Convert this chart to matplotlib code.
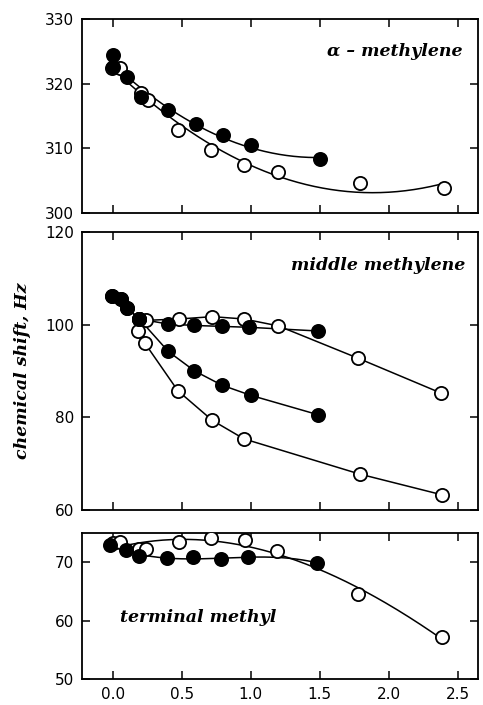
import matplotlib.pyplot as plt
import numpy as np

# alpha-methylene (top panel)
top_fill_x = [0.0, 0.0, 0.1, 0.2, 0.4, 0.6, 0.8, 1.0, 1.5]
top_fill_y = [324.4, 322.6, 321.1, 318.0, 315.9, 313.8, 312.0, 310.5, 308.3]
top_open_x = [-0.01, 0.05, 0.2, 0.25, 0.47, 0.71, 0.95, 1.2, 1.79, 2.4]
top_open_y = [322.4, 322.4, 318.6, 317.5, 312.8, 309.7, 307.4, 306.3, 304.6, 303.8]

# middle methylene (middle panel), four series joined by straight lines
mid_fill_a_x = [-0.01, 0.06, 0.1, 0.19, 0.4, 0.59, 0.79, 0.99, 1.49]
mid_fill_a_y = [106.2, 105.6, 103.6, 101.2, 100.1, 99.8, 99.6, 99.4, 98.6]
mid_fill_b_x = [-0.01, 0.06, 0.1, 0.19, 0.4, 0.59, 0.79, 1.0, 1.49]
mid_fill_b_y = [106.2, 105.6, 103.6, 101.2, 94.2, 90.0, 86.9, 84.7, 80.5]
mid_open_c_x = [0.19, 0.24, 0.48, 0.72, 0.95, 1.2, 1.78, 2.38]
mid_open_c_y = [101.2, 100.9, 101.2, 101.7, 101.2, 99.7, 92.7, 85.2]
mid_open_d_x = [0.19, 0.18, 0.23, 0.47, 0.72, 0.95, 1.79, 2.39]
mid_open_d_y = [101.2, 98.5, 96.0, 85.7, 79.3, 75.3, 67.7, 63.2]

# terminal methyl (bottom panel)
bot_fill_x = [-0.02, 0.09, 0.19, 0.39, 0.58, 0.78, 0.98, 1.48]
bot_fill_y = [72.9, 72.0, 71.1, 70.7, 70.8, 70.6, 70.8, 69.9]
bot_open_x = [0.0, 0.05, 0.19, 0.24, 0.48, 0.71, 0.96, 1.19, 1.78, 2.39]
bot_open_y = [73.2, 73.4, 72.3, 72.2, 73.4, 74.1, 73.8, 71.9, 64.5, 57.1]

xticks = [0.0, 0.5, 1.0, 1.5, 2.0, 2.5]

fig = plt.figure(figsize=(4.83, 7.05), dpi=100)
ax1 = fig.add_axes([0.170, 0.698, 0.820, 0.275])
ax2 = fig.add_axes([0.170, 0.277, 0.820, 0.394])
ax3 = fig.add_axes([0.170, 0.037, 0.820, 0.207])

lab_font = dict(family='DejaVu Serif', style='italic', weight='bold', size=12.5)
ms = 9.5


def style(ax, ylim, yticks):
    ax.set_xlim(-0.225, 2.65)
    ax.set_ylim(*ylim)
    ax.set_xticks(xticks)
    ax.set_yticks(yticks)
    ax.tick_params(direction='in', length=6, width=1.1, top=True, right=True,
                   labelright=False, labelsize=11, pad=6)
    for s in ax.spines.values():
        s.set_linewidth(1.3)


def pts(ax, x, y, filled):
    ax.plot(x, y, 'o', ms=ms, mfc='black' if filled else 'white', mec='black',
            mew=1.3, ls='none', zorder=4 if filled else 3)


def fit(ax, x, y, deg, x0, x1):
    c = np.polyfit(x, y, deg)
    xx = np.linspace(x0, x1, 200)
    ax.plot(xx, np.polyval(c, xx), color='black', lw=1.1, zorder=2)


# top panel
fit(ax1, top_fill_x, top_fill_y, 2, 0.0, 1.5)
fit(ax1, top_open_x, top_open_y, 2, 0.0, 2.4)
pts(ax1, top_open_x, top_open_y, False)
pts(ax1, top_fill_x, top_fill_y, True)
style(ax1, (300, 330), [300, 310, 320, 330])
ax1.tick_params(labelbottom=False)
ax1.text(0.96, 0.83, 'α – methylene', transform=ax1.transAxes, ha='right', va='center', **lab_font)

# middle panel
for x, y, filled in [(mid_open_c_x, mid_open_c_y, False), (mid_open_d_x, mid_open_d_y, False),
                     (mid_fill_a_x, mid_fill_a_y, True), (mid_fill_b_x, mid_fill_b_y, True)]:
    ax2.plot(x, y, color='black', lw=1.1, zorder=2)
    pts(ax2, x, y, filled)
style(ax2, (60, 120), [60, 80, 100, 120])
ax2.tick_params(labelbottom=False)
ax2.text(0.967, 0.88, 'middle methylene', transform=ax2.transAxes, ha='right', va='center', **lab_font)
ax2.set_ylabel('chemical shift, Hz', labelpad=10, **lab_font)

# bottom panel
fit(ax3, bot_open_x, bot_open_y, 3, 0.0, 2.4)
fit(ax3, bot_fill_x, bot_fill_y, 3, 0.05, 1.5)
pts(ax3, bot_open_x, bot_open_y, False)
pts(ax3, bot_fill_x, bot_fill_y, True)
style(ax3, (50, 75), [50, 60, 70])
ax3.set_xticklabels(['0.0', '0.5', '1.0', '1.5', '2.0', '2.5'])
ax3.text(0.096, 0.42, 'terminal methyl', transform=ax3.transAxes, ha='left', va='center', **lab_font)

fig.savefig('out.png', dpi=100)
